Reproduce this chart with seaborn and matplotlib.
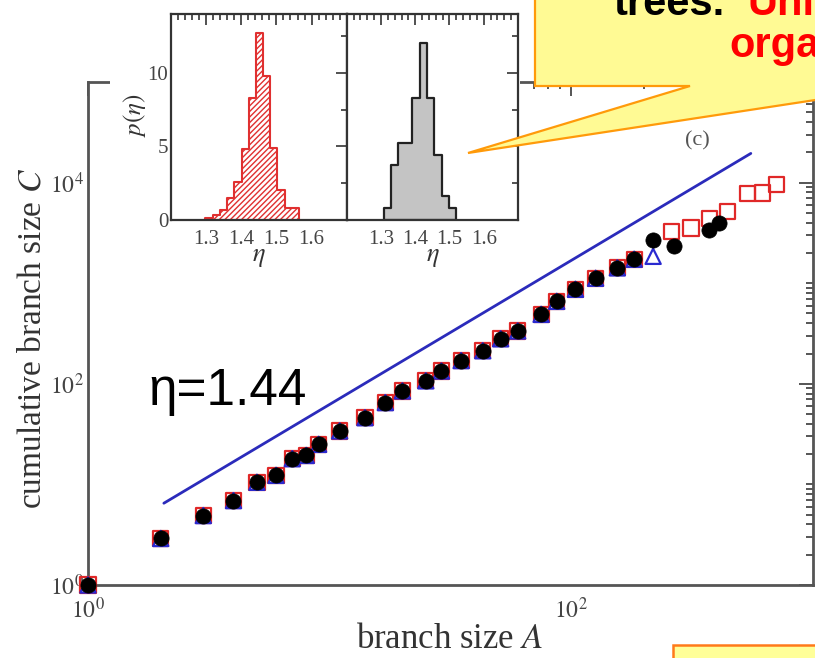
import numpy as np
import pandas as pd
import seaborn as sns
import matplotlib
matplotlib.use("Agg")
import matplotlib.pyplot as plt
from matplotlib import ticker
from matplotlib.patches import Polygon, Rectangle

# ---------------- data ----------------
A_common = [1, 2, 3, 4, 5, 6, 7, 8, 9, 11, 14, 17, 20, 25, 29, 35, 43, 51, 60, 75, 87, 104, 126, 155, 182]
C_common = [1, 2.9, 4.9, 6.9, 10.5, 12.3, 18, 19.4, 25, 34, 46, 65, 85, 107, 134, 170, 213, 280, 335, 490,
            660, 870, 1120, 1420, 1730]

A_squares = A_common + [259, 313, 373, 443, 535, 618, 704]
C_squares = C_common + [3270, 3530, 4430, 5160, 7830, 7900, 9490]

A_triangles = A_common + [218]
C_triangles = C_common + [1850]

A_circles = A_common + [218, 267, 373, 410]
C_circles = C_common + [2710, 2325, 3400, 3955]

fit_A = [2.06, 553]
fit_C = [6.5, 19500]
fit_label = "η=1.44"

red_edges = [1.298, 1.319, 1.339, 1.360, 1.380, 1.401, 1.421, 1.442, 1.462, 1.483, 1.503, 1.524, 1.544, 1.565]
red_heights = [0.15, 0.35, 0.65, 1.5, 2.6, 4.8, 8.3, 12.7, 9.8, 4.9, 2.05, 0.8, 0.8]

gray_edges = [1.308, 1.329, 1.350, 1.371, 1.392, 1.413, 1.435, 1.456, 1.477, 1.498, 1.519]
gray_heights = [0.8, 3.75, 5.25, 5.25, 8.3, 12.0, 8.3, 4.45, 1.6, 0.8]

inset_xticks = [1.3, 1.4, 1.5, 1.6]
inset_yticks = [0, 5, 10]

# ---------------- style ----------------
sns.set_theme(style="white")
plt.rcParams["font.family"] = ["Liberation Serif", "DejaVu Serif"]
plt.rcParams["mathtext.fontset"] = "stix"
plt.rcParams["hatch.linewidth"] = 1.0

W, H = 815, 658
fig = plt.figure(figsize=(W / 100, H / 100), dpi=100)


def fx(x):
    return x / W


def fy(y):
    return 1 - y / H


SPINE = "#555555"

# ---------------- main axes ----------------
ax = fig.add_axes([fx(88), fy(585), 725 / W, 503 / H], zorder=0)
ax.set_facecolor("white")

sns.scatterplot(x=A_squares, y=C_squares, marker="s", s=120, facecolor="none",
                edgecolor="#e02828", linewidth=1.6, ax=ax, zorder=3, clip_on=False)
sns.scatterplot(x=A_triangles, y=C_triangles, marker="^", s=120, facecolor="none",
                edgecolor="#2a2ad0", linewidth=1.6, ax=ax, zorder=4, clip_on=False)
sns.scatterplot(x=A_circles, y=C_circles, marker="o", s=120, color="black",
                edgecolor="black", linewidth=0.5, ax=ax, zorder=5, clip_on=False)
sns.lineplot(x=fit_A, y=fit_C, color="#2b2bbb", linewidth=2.0, ax=ax, zorder=2)

ax.set_xscale("log")
ax.set_yscale("log")
ax.set_xlim(1, 1000)
ax.set_ylim(1, 1e5)

fmt = ticker.FuncFormatter(lambda v, p: r"$10^{%d}$" % int(round(np.log10(v))))
ax.xaxis.set_major_locator(ticker.FixedLocator([1, 100]))
ax.yaxis.set_major_locator(ticker.FixedLocator([1, 100, 1e4]))
ax.xaxis.set_major_formatter(fmt)
ax.yaxis.set_major_formatter(fmt)
ax.xaxis.set_minor_locator(ticker.LogLocator(base=10, subs=np.arange(1, 10), numticks=20))
ax.yaxis.set_minor_locator(ticker.LogLocator(base=10, subs=np.arange(1, 10), numticks=20))
ax.xaxis.set_minor_formatter(ticker.NullFormatter())
ax.yaxis.set_minor_formatter(ticker.NullFormatter())

ax.tick_params(which="both", direction="in", top=True, right=True, color=SPINE,
               labelcolor="#444444", labelsize=17, width=1.4)
ax.tick_params(which="major", length=10)
ax.tick_params(which="minor", length=5)
ax.tick_params(axis="x", pad=9)
ax.tick_params(axis="y", pad=3)
for sp in ax.spines.values():
    sp.set_color(SPINE)
    sp.set_linewidth(2)

ax.set_xlabel("branch size $A$", fontsize=25, color="#333333")
ax.set_ylabel("cumulative branch size $C$", fontsize=24, color="#333333")
ax.xaxis.label.set_va("center")
ax.yaxis.label.set_va("center")
ax.xaxis.set_label_coords(0.499, (585 - 640) / 503)
ax.yaxis.set_label_coords((32 - 88) / 725, (585 - 338) / 503)

# white patch behind the inset
fig.add_artist(Rectangle((fx(110), fy(280)), (520 - 110) / W, 280 / H + 0.05,
                         transform=fig.transFigure, facecolor="white",
                         edgecolor="none", zorder=1))

# ---------------- inset histograms ----------------
axL = fig.add_axes([fx(171), fy(220), 175.7 / W, 206 / H], zorder=2)
axR = fig.add_axes([fx(346.7), fy(220), 171.3 / W, 206 / H], zorder=2)

red_centers = [(a + b) / 2 for a, b in zip(red_edges[:-1], red_edges[1:])]
gray_centers = [(a + b) / 2 for a, b in zip(gray_edges[:-1], gray_edges[1:])]

sns.histplot(x=red_centers, weights=red_heights, bins=red_edges, element="step",
             fill=True, color="#e03030", linewidth=1.5, ax=axL)
for c in axL.collections:
    c.set_facecolor("white")
    c.set_edgecolor("#e03030")
    c.set_hatch("//////")
    c.set_linewidth(1.5)

sns.histplot(x=gray_centers, weights=gray_heights, bins=gray_edges, element="step",
             fill=True, color="#c4c4c4", alpha=1.0, linewidth=1.6, ax=axR)
for c in axR.collections:
    c.set_facecolor("#c4c4c4")
    c.set_edgecolor("#222222")
    c.set_linewidth(1.6)

for a in (axL, axR):
    a.set_facecolor("white")
    a.set_xlim(1.2, 1.7)
    a.set_ylim(0, 14.0)
    a.xaxis.set_major_locator(ticker.FixedLocator(inset_xticks))
    a.xaxis.set_minor_locator(ticker.MultipleLocator(0.02))
    a.yaxis.set_major_locator(ticker.FixedLocator(inset_yticks))
    a.yaxis.set_minor_locator(ticker.MultipleLocator(2.5))
    a.tick_params(which="both", direction="in", top=True, right=True, color="#333333",
                  labelcolor="#444444", labelsize=15, width=1.2)
    a.tick_params(which="major", length=8)
    a.tick_params(which="minor", length=4)
    a.tick_params(axis="x", pad=7)
    a.tick_params(axis="y", pad=2)
    for sp in a.spines.values():
        sp.set_color("#333333")
        sp.set_linewidth(1.6)
    a.set_xlabel(r"$\eta$", fontsize=19, color="#333333")
    a.xaxis.label.set_va("center")
    a.xaxis.set_label_coords(0.5, (220 - 258) / 206)

axL.set_ylabel(r"$p(\eta)$", fontsize=18, color="#333333")
axL.yaxis.label.set_va("center")
axL.yaxis.set_label_coords((135 - 171) / 175.7, (220 - 115) / 206)
axR.set_ylabel("")
axR.tick_params(axis="y", labelleft=False)

# ---------------- annotations ----------------
fig.text(fx(697), fy(141), "(c)", fontsize=16, color="#555555", ha="center", va="center")
fig.text(fx(148), fy(405), fit_label, fontsize=37, color="black",
         family=["Liberation Sans", "DejaVu Sans"], va="baseline", ha="left", zorder=6)

# callout bubble (top right)
callout = [(535, -20), (535, 86), (690, 86), (468, 153), (907, 86), (1000, 86), (1000, -20)]
fig.add_artist(Polygon([(fx(x), fy(y)) for x, y in callout], closed=True,
                       transform=fig.transFigure, facecolor="#fffa94",
                       edgecolor="#ff9a0a", linewidth=1.6, zorder=3))
sans = ["Liberation Sans", "DejaVu Sans"]
fig.text(fx(613), fy(15), "trees.", fontsize=30, fontweight="bold", color="black",
         family=sans, va="baseline", ha="left", zorder=4)
fig.text(fx(748), fy(15), "Uni", fontsize=30, fontweight="bold", color="#ff0000",
         family=sans, va="baseline", ha="left", zorder=4)
fig.text(fx(729), fy(57), "orga", fontsize=30, fontweight="bold", color="#ff0000",
         family=sans, va="baseline", ha="left", zorder=4)

# second callout box edge (bottom right)
fig.add_artist(Rectangle((fx(673), fy(700)), (900 - 673) / W, 55 / H,
                         transform=fig.transFigure, facecolor="#ffff99",
                         edgecolor="#ff7a1a", linewidth=1.8, zorder=3))

fig.savefig("out.png", dpi=100)
